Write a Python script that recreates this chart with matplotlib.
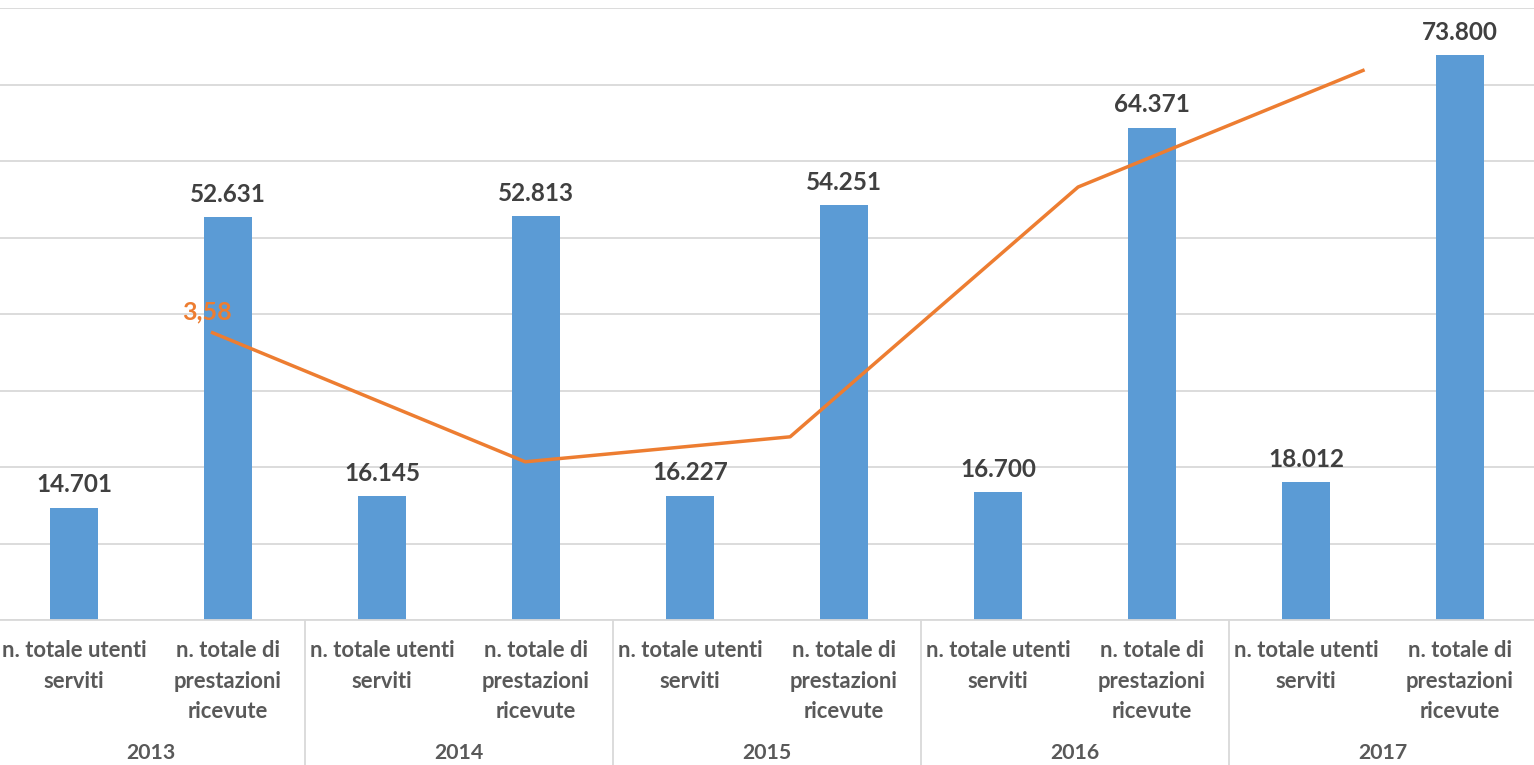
import matplotlib.pyplot as plt
import matplotlib.transforms as mtransforms

# dati
anni = ['2013', '2014', '2015', '2016', '2017']
categorie = ['n. totale utenti\nserviti', 'n. totale di\nprestazioni\nricevute']
valori = [14701, 52631, 16145, 52813, 16227, 54251, 16700, 64371, 18012, 73800]
etichette = ['14.701', '52.631', '16.145', '52.813', '16.227', '54.251', '16.700', '64.371', '18.012', '73.800']

# rapporto prestazioni / utenti (asse secondario)
line_x = [0.9, 2.93, 4.65, 6.52, 8.37]
line_y = [3.58, 3.27, 3.33, 3.93, 4.21]

plt.rcParams['font.family'] = ['Lato', 'DejaVu Sans']

fig = plt.figure(figsize=(15.34, 7.65), dpi=100)
ax = fig.add_axes([-3 / 1534, 145 / 765, 1540 / 1534, 612 / 765])

x = list(range(len(valori)))
ax.bar(x, valori, width=0.31, color='#5B9BD5', zorder=2)
ax.set_xlim(-0.5, 9.5)
ax.set_ylim(0, 80000)
ax.set_yticks(range(0, 80001, 10000))
ax.grid(axis='y', color='#D9D9D9', linewidth=1.3, zorder=0)
ax.tick_params(left=False, labelleft=False, bottom=False, labelbottom=False)
for s in ['top', 'right', 'left']:
    ax.spines[s].set_visible(False)
ax.spines['bottom'].set_color('#D9D9D9')
ax.spines['bottom'].set_linewidth(1.3)

for xi, v, lab in zip(x, valori, etichette):
    ax.text(xi, v + 1500, lab, ha='center', va='bottom', fontsize=17.5,
            fontweight='bold', color='#404040')

trans = mtransforms.blended_transform_factory(ax.transData, ax.transAxes)
for i, xi in enumerate(x):
    ax.text(xi, -0.033, categorie[i % 2], ha='center', va='top', fontsize=15.8,
            fontweight='bold', color='#595959', linespacing=1.55, transform=trans)
for j, anno in enumerate(anni):
    ax.text(2 * j + 0.5, -0.218, anno, ha='center', va='center', fontsize=15.3,
            fontweight='bold', color='#595959', transform=trans)
for j in range(1, len(anni)):
    ax.plot([2 * j - 0.5, 2 * j - 0.5], [0, -0.25], color='#D9D9D9', linewidth=1.3,
            transform=trans, clip_on=False)

ax2 = ax.twinx()
ax2.set_ylim(2.89, 4.36)
ax2.plot(line_x, line_y, color='#ED7D31', linewidth=2.5, zorder=3)
ax2.text(line_x[0] - 0.04, line_y[0] + 0.022, '3,58', ha='center', va='bottom',
         fontsize=18, fontweight='bold', color='#ED7D31')
ax2.axis('off')

fig.savefig('out.png', dpi=100)
